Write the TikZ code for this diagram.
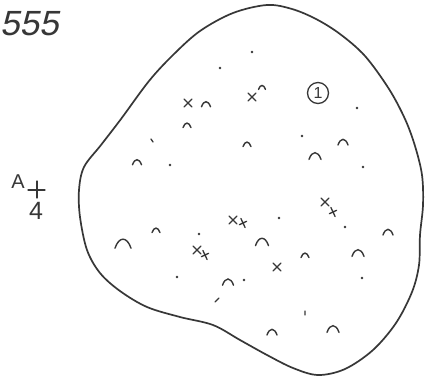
\documentclass[tikz,border=0pt]{standalone}
\usepackage{fontspec}
\usepackage{tikz}
\newfontfamily\handfont{Liberation Sans}
\newfontfamily\handslant[FakeSlant=0.2]{Liberation Sans}
\definecolor{pencil}{RGB}{55,55,55}
\definecolor{paper}{RGB}{255,255,255}

\tikzset{
  outline/.style={draw=pencil, line width=1.7pt},
  hump/.style={draw=pencil, line width=1.4pt, line cap=round},
  cross/.style={draw=pencil, line width=1.3pt, line cap=round},
  speck/.style={fill=pencil},
  scrawl/.style={text=pencil, inner sep=0pt}
}

\begin{document}
\begin{tikzpicture}[x=1pt,y=-1pt]
\useasboundingbox[fill=paper] (0,0) rectangle (425,376);

% the island outline
\draw[outline] plot[smooth cycle, tension=0.55] coordinates {
  (267,5) (292,9) (316,19) (340,34) (365,56) (389,89) (405,119) (415,146)
  (422,175) (423,205) (420,235) (419,265) (412,292) (396,323) (373,350)
  (345,369) (318,375) (293,368) (267,355) (240,340) (213,325) (180,317)
  (147,307) (120,291) (100,273) (87,250) (80,217) (79,190) (84,167)
  (101,145) (121,119) (149,81) (173,55) (200,31) (233,13)};

% labels
\node[scrawl, anchor=west, font=\fontsize{35}{35}\selectfont\handslant] (num) at (0,24) {555};
\node[scrawl, font=\fontsize{20}{20}\selectfont\handfont] (lettera) at (18,182) {A};
\node[scrawl, font=\fontsize{25}{25}\selectfont\handfont] (four) at (36,211) {4};
\node[draw=pencil, circle, line width=1.3pt, inner sep=1.5pt, minimum size=21pt, text=pencil,
      font=\fontsize{16}{16}\selectfont\handfont] (one) at (318,93) {1};
\draw[cross] (28,190) -- (45,190) (37,181) -- (37,198);

% humps
\foreach \x/\y/\s in {206/105/4.5, 262/88/3.5, 187/126/4, 247/145/4, 343/143/5,
    137/163/4.5, 315/157/6, 388/233/5, 156/231/4, 123/245/8, 262/243/6.5,
    305/256/4, 358/254/6, 228/283/5.5, 272/333/5, 333/330/6}
  \draw[hump] ({\x-\s},{\y+0.4*\s}) .. controls ({\x-0.5*\s},{\y-1.1*\s})
    and ({\x+0.5*\s},{\y-1.1*\s}) .. ({\x+\s},{\y+0.4*\s});

% crosses
\foreach \x/\y in {188/103, 252/97, 325/202, 233/220, 197/250, 277/267}
  \draw[cross] ({\x-4},{\y-4}) -- ({\x+4},{\y+4}) ({\x-4},{\y+4}) -- ({\x+4},{\y-4});
\foreach \x/\y in {333/212, 243/223, 205/255}
  \draw[cross, rotate around={25:(\x,\y)}] ({\x-4},\y) -- ({\x+4},\y) (\x,{\y-5}) -- (\x,{\y+5});

% dots
\foreach \x/\y in {252/52, 220/68, 357/108, 302/136, 170/165, 363/167, 279/218,
    345/227, 199/234, 177/277, 244/280, 362/278}
  \fill[speck] (\x,\y) circle (1.4);
\draw[cross] (151,139) -- (153,142) (215,302) -- (219,298) (305,311) -- (305,315);

\end{tikzpicture}
\end{document}
